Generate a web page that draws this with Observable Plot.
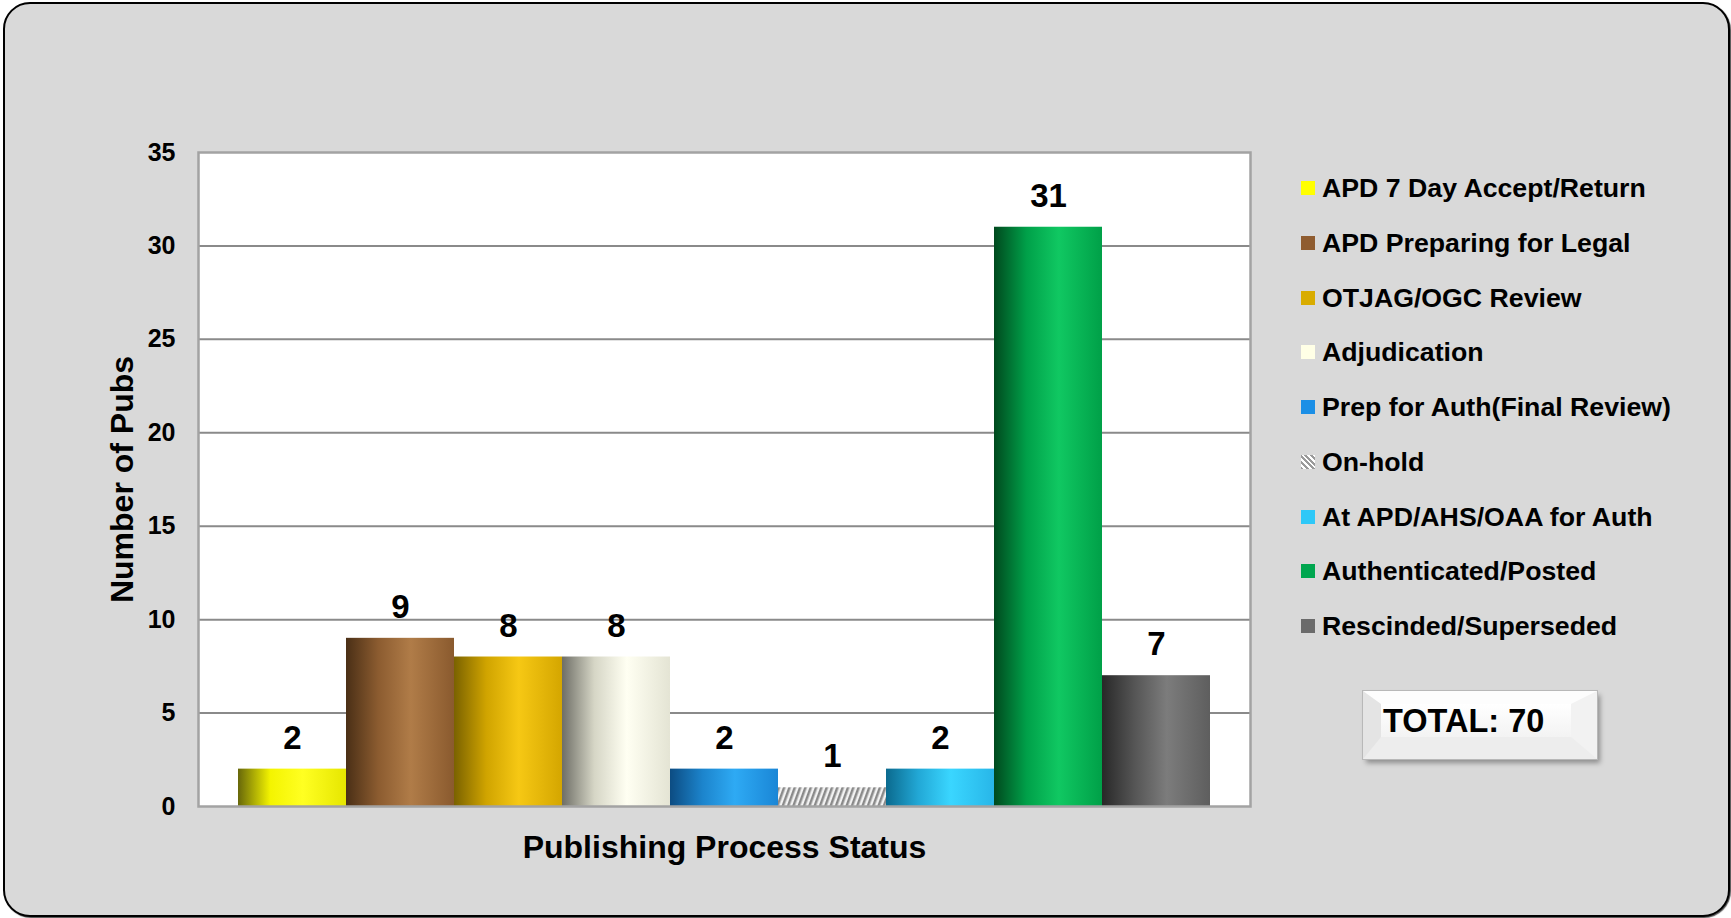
<!DOCTYPE html>
<html>
<head>
<meta charset="utf-8">
<script src="https://cdn.jsdelivr.net/npm/d3@7"></script>
<script src="https://cdn.jsdelivr.net/npm/@observablehq/plot@0.6"></script>
<style>
  html, body { margin: 0; padding: 0; background: #ffffff; }
  body { width: 1731px; height: 918px; overflow: hidden; font-family: Arial, "Liberation Sans", sans-serif; }
  #wrap { position: relative; width: 1731px; height: 918px; }
  #panel { position: absolute; left: 3px; top: 2px; width: 1727px; height: 915px; box-sizing: border-box;
           border: 2px solid #000; border-radius: 27px; background: #d9d9d9;
           box-shadow: 1px 1px 1px rgba(0,0,0,0.7); }
  #chart { position: absolute; left: 0; top: 0; }
  #legend { position: absolute; left: 1301px; top: 161px; }
  .row { position: absolute; left: 0; white-space: nowrap; font-weight: bold; font-size: 26.7px; color: #000; height: 30px; line-height: 30px; }
  .sw { position: absolute; left: 0; top: 8px; width: 14px; height: 14px; }
  .lab { position: absolute; left: 21px; top: 0; }
  #total { position: absolute; left: 1363px; top: 691px; width: 234px; height: 68px; box-sizing: border-box;
           border-style: solid; border-width: 13px 26px 22px 18px;
           border-color: #fdfdfd #f2f2f2 #ededed #e4e4e4;
           background: linear-gradient(#ffffff, #f3f3f3);
           outline: 1px solid #b8b8b8;
           box-shadow: 3px 4px 5px rgba(0,0,0,0.35);
           font-weight: bold; font-size: 32.5px; line-height: 36px; color: #000; }
  #total span { position: absolute; left: 2px; top: -1px; white-space: nowrap; }
</style>
</head>
<body>
<div id="wrap">
  <div id="panel"></div>
  <svg width="0" height="0" style="position:absolute">
    <defs id="defs"></defs>
  </svg>
  <div id="chart"></div>
  <div id="legend"></div>
  <div id="total"><span id="totaltext"></span></div>
</div>
<script>
// ---- data ----
const categories = [
  "APD 7 Day Accept/Return",
  "APD Preparing for Legal",
  "OTJAG/OGC Review",
  "Adjudication",
  "Prep for Auth(Final Review)",
  "On-hold",
  "At APD/AHS/OAA for Auth",
  "Authenticated/Posted",
  "Rescinded/Superseded"
];
const values = [2, 9, 8, 8, 2, 1, 2, 31, 7];
const yTicks = [0, 5, 10, 15, 20, 25, 30, 35];
const xTitle = "Publishing Process Status";
const yTitle = "Number of Pubs";
const totalLabel = "TOTAL: 70";

// ---- styles ----
const legendColors = ["#ffff00", "#8f5c30", "#d9ac00", "#ffffe6", "#1b8fe6", null, "#2ec8f8", "#00a64f", "#6b6b6b"];
const gradStops = [
  ["#67670a", "#f4f400", "#ffff22", "#e6e600"],
  ["#4a2f16", "#8c5c30", "#b07c48", "#8a5a2e"],
  ["#7a6200", "#d0a400", "#f6c814", "#d4a600"],
  ["#6e6e66", "#d6d6c6", "#fffff2", "#e4e4d4"],
  ["#0c4c82", "#1c84cc", "#2eaaf4", "#1a86d6"],
  null,
  ["#0b6a8e", "#22a8d6", "#3ad6ff", "#28b6e8"],
  ["#00491e", "#00a049", "#10c862", "#00a048"],
  ["#282828", "#555555", "#7c7c7c", "#5e5e5e"]
];

// gradient defs
const defs = document.getElementById("defs");
const NS = "http://www.w3.org/2000/svg";
gradStops.forEach((stops, i) => {
  if (!stops) return;
  const g = document.createElementNS(NS, "linearGradient");
  g.setAttribute("id", "g" + i);
  g.setAttribute("x1", "0"); g.setAttribute("x2", "1"); g.setAttribute("y1", "0"); g.setAttribute("y2", "0");
  [[0, stops[0]], [0.3, stops[1]], [0.6, stops[2]], [1, stops[3]]].forEach(([o, c]) => {
    const s = document.createElementNS(NS, "stop");
    s.setAttribute("offset", o); s.setAttribute("stop-color", c);
    g.appendChild(s);
  });
  defs.appendChild(g);
});
// on-hold pattern
defs.insertAdjacentHTML("beforeend", `
  <pattern id="g5" patternUnits="userSpaceOnUse" width="5" height="5" patternTransform="rotate(20)">
    <rect width="5" height="5" fill="#f2f2f2"/>
    <rect width="2.5" height="5" fill="#8a8a8a"/>
  </pattern>`);

const data = categories.map((c, i) => ({cat: c, value: values[i], fill: `url(#g${i})`}));

const font = "Arial, 'Liberation Sans', sans-serif";

const chart = Plot.plot({
  width: 1731,
  height: 918,
  marginTop: 152,
  marginBottom: 112,
  marginLeft: 198,
  marginRight: 481,
  style: {background: "transparent", fontFamily: font, color: "#000"},
  x: {domain: categories, paddingInner: 0, paddingOuter: 0.34, axis: null},
  y: {domain: [0, 35], axis: null},
  color: {type: "identity"},
  marks: [
    Plot.frame({fill: "#ffffff", stroke: null}),
    Plot.ruleY(yTicks.filter(t => t > 0 && t < 35), {stroke: "#8a8a8a", strokeWidth: 2}),
    Plot.barY(data, {x: "cat", y: "value", fill: "fill", insetLeft: 0, insetRight: 0}),
    Plot.frame({stroke: "#a3a3a3", strokeWidth: 2.5}),
    Plot.axisY({ticks: yTicks, tickSize: 0, tickPadding: 23, fontSize: 25, fontWeight: "bold", label: null, fill: "#000"}),
    Plot.text(data, {x: "cat", y: "value", text: d => String(d.value), dy: -31, fontSize: 33, fontWeight: "bold", fill: "#000"}),
    Plot.text([xTitle], {frameAnchor: "bottom", dy: 41, lineAnchor: "middle", textAnchor: "middle", fontSize: 32, fontWeight: "bold", fill: "#000"}),
    Plot.text([yTitle], {frameAnchor: "left", dx: -76, rotate: -90, lineAnchor: "middle", textAnchor: "middle", fontSize: 32, fontWeight: "bold", fill: "#000"})
  ]
});
document.getElementById("chart").appendChild(chart);

// legend
const legend = document.getElementById("legend");
categories.forEach((c, i) => {
  const row = document.createElement("div");
  row.className = "row";
  row.style.top = (i * 54.75 + 12) + "px";
  const sw = document.createElement("div");
  sw.className = "sw";
  if (legendColors[i]) sw.style.background = legendColors[i];
  else sw.style.background = "repeating-linear-gradient(45deg, #9a9a9a 0 2px, #ffffff 2px 4px)";
  const lab = document.createElement("span");
  lab.className = "lab";
  lab.textContent = c;
  row.appendChild(sw); row.appendChild(lab);
  legend.appendChild(row);
});
document.getElementById("totaltext").textContent = totalLabel;
</script>
</body>
</html>
